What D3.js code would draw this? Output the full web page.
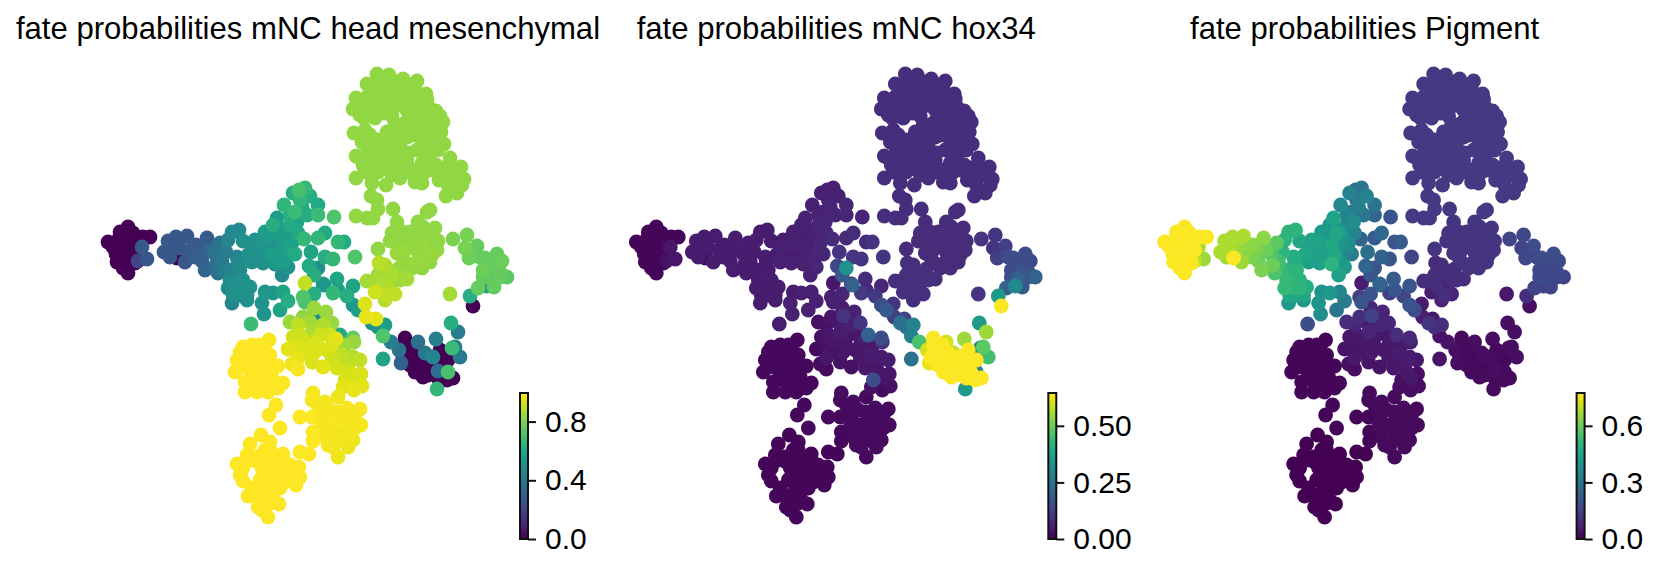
<!DOCTYPE html>
<html>
<head>
<meta charset="utf-8">
<script src="https://cdn.jsdelivr.net/npm/d3@7"></script>
<style>
  html, body { margin: 0; padding: 0; background: #fff; }
  text { font-family: "Liberation Sans", Arial, sans-serif; fill: #000; }
</style>
</head>
<body>
<svg id="chart"></svg>
<script>
// umap position of every cell, same order as the fate arrays below
const umapX = [
  // top lobe
  377,389,403,417,367,377,390,403,415,426,
  356,367,380,393,407,422,427,353,368,382,
  407,420,436,364,392,405,423,433,443,354,
  365,387,402,417,430,441,362,378,393,407,
  422,433,444,356,370,387,400,417,430,450,
  363,378,392,407,422,433,443,461,356,378,
  400,415,422,372,386,439,453,464,462,446,
  457,371,377,378,356,367,373,393,430,427,
  395,385,412,445,398,375,410,395,425,372,
  // branch under the top lobe
  397,418,435,392,402,423,417,430,438,390,
  412,423,432,397,405,417,423,432,402,378,
  // right arm
  453,467,477,465,469,485,497,502,483,493,
  490,500,507,494,487,470,473,451,458,450,
  // lower right group
  405,408,410,403,420,430,423,428,443,448,
  447,414,435,418,399,401,436,425,433,438,
  448,452,437,383,455,460,418,440,412,443,
  // centre green
  305,293,299,310,284,302,295,318,318,334,
  277,290,297,273,325,318,304,280,292,275,
  338,344,311,355,325,333,295,287,275,288,
  318,309,314,337,324,353,333,347,338,305,
  314,303,283,288,273,280,305,314,353,358,
  385,378,383,391,372,264,251,262,323,315,
  // left tip
  108,128,120,143,150,113,128,137,123,133,
  117,128,123,128,135,142,147,138,120,133,
  // left tail
  168,176,187,164,170,180,177,196,207,185,
  195,202,205,220,215,218,216,226,232,237,
  232,239,243,252,252,263,275,265,230,243,
  237,250,233,247,265,232,247,240,265,282,
  // yellow green middle
  379,387,378,398,407,395,367,387,375,395,
  385,365,366,376,478,
  // lower centre
  290,303,298,326,332,323,312,336,353,354,
  340,293,297,288,307,317,327,312,323,337,
  342,353,360,292,298,345,361,362,343,354,
  // yellow left
  243,269,260,250,237,258,270,278,235,248,
  265,272,253,245,257,268,283,278,240,260,
  276,269,280,
  // yellow right
  313,312,325,300,312,323,337,347,360,355,
  361,347,322,313,313,337,328,343,353,338,
  348,333,323,338,
  // bottom
  261,250,270,247,283,300,309,237,257,272,
  243,262,275,290,299,243,260,277,288,300,
  296,252,267,280,248,263,258,270,279,268,
  262,269,
  // second pass, cells hidden in the dense parts
  384,396,410,372,384,397,410,420,362,375,
  387,400,414,428,360,372,384,412,428,440,
  412,395,425,437,370,383,400,412,425,437,
  367,379,393,408,422,438,360,372,385,400,
  415,428,440,450,458,448,365,392,408,436,
  410,425,408,418,437,430,398,405,412,422,
  480,488,497,500,483,492,
  270,262,272,283,283,262,255,248,235,243,
  240,228,225,238,228,222,210,190,172,200,
  300,307,290,285,278,298,290,282,
  128,118,138,126,116,133,
  248,262,272,245,258,270,252,265,240,255,
  318,330,345,330,340,355,325,338,320,350,
  270,265,262,270,283,240,255,272,270,290,258,280,285,250,265,
  300,310,320,330,305,298,315,332,345,350,355,348,332,
  385,392,400,380,388,375,
  410,425,438,415,405,440,453
];
const umapY = [
  74,75,79,81,84,85,87,90,90,94,
  98,97,97,98,100,100,99,109,107,107,
  110,112,111,118,116,123,120,122,122,133,
  130,132,128,130,132,132,142,140,138,137,
  140,143,144,156,152,148,150,150,153,158,
  165,163,162,160,163,170,168,167,178,172,
  178,182,183,183,185,180,175,179,185,196,
  193,196,200,209,216,218,218,209,210,212,
  170,155,172,178,105,118,130,145,172,172,

  222,222,228,233,232,227,237,235,241,241,
  245,247,247,253,250,262,260,255,257,249,

  239,235,246,248,258,258,254,261,270,270,
  278,277,277,287,286,296,306,323,332,294,

  338,350,365,357,353,357,377,375,373,360,
  380,345,368,342,350,363,339,353,357,371,
  372,348,389,359,347,357,362,350,355,362,

  188,193,190,196,205,207,212,205,215,217,
  218,225,222,225,233,238,239,233,243,245,
  242,242,252,257,257,259,254,257,264,267,
  268,266,275,279,285,286,293,296,290,283,
  294,297,292,301,293,310,302,308,305,310,
  325,327,336,342,323,314,324,303,284,316,

  242,227,232,237,237,247,240,242,250,253,
  262,258,268,273,263,247,259,261,255,233,

  241,237,236,252,257,248,258,245,238,262,
  257,261,270,243,254,273,265,252,270,257,
  232,230,241,247,262,263,263,245,280,280,
  288,287,295,295,292,303,300,270,232,230,

  263,273,275,269,279,280,281,287,292,294,
  300,304,317,319,288,

  322,317,325,312,323,325,332,339,338,342,
  335,337,346,349,352,343,350,362,367,368,
  355,357,360,364,369,380,374,386,387,390,

  347,340,345,352,360,355,355,366,372,368,
  372,377,378,392,392,392,383,388,367,380,
  405,415,428,

  393,400,402,417,417,415,412,408,409,415,
  425,423,427,432,441,430,445,438,440,457,
  447,447,420,397,

  435,444,442,455,454,452,454,464,457,457,
  468,468,468,465,467,481,480,480,477,477,
  485,488,490,488,496,495,507,503,504,517,
  510,463,

  80,82,85,92,92,93,95,95,104,102,
  103,105,104,106,115,112,113,116,114,116,
  125,124,128,127,135,143,143,135,135,138,
  146,150,155,153,150,150,158,158,168,165,
  170,162,172,168,172,185,172,175,172,165,
  232,237,240,252,250,262,243,262,268,268,
  257,267,260,272,277,260,
  235,240,255,245,262,255,240,255,285,288,
  295,288,272,263,240,262,250,250,247,250,
  200,215,215,235,255,233,250,275,
  248,240,250,263,254,245,
  360,362,365,382,385,385,345,352,352,370,
  405,410,415,425,420,428,437,440,410,432,
  450,450,478,473,470,475,495,497,480,472,462,462,482,460,503,
  335,322,335,335,342,358,352,358,345,372,378,365,345,
  265,275,280,285,295,280,
  355,368,378,372,345,358,378
];

// fate probability towards each lineage, per cell
const fateHead = [
  .83,.83,.83,.83,.83,.83,.83,.83,.83,.83,
  .83,.83,.83,.83,.83,.83,.83,.83,.83,.83,
  .83,.83,.83,.83,.83,.83,.83,.83,.83,.83,
  .83,.83,.83,.83,.83,.83,.83,.83,.83,.83,
  .83,.83,.83,.83,.83,.83,.83,.83,.83,.83,
  .83,.83,.83,.83,.83,.83,.83,.83,.83,.83,
  .83,.83,.83,.83,.83,.83,.83,.83,.83,.83,
  .83,.83,.83,.83,.83,.83,.83,.83,.83,.83,
  .83,.83,.83,.83,.83,.83,.83,.83,.83,.83,

  .83,.83,.83,.83,.83,.83,.83,.83,.83,.83,
  .83,.84,.83,.84,.84,.84,.84,.84,.84,.83,

  .8,.79,.76,.79,.77,.76,.76,.77,.77,.76,
  .74,.76,.74,.76,.55,.62,0,.62,.42,.86,

  0,0,0,0,0,0,0,0,0,0,
  0,0,0,.36,.38,.3,.42,.4,.45,.35,
  .7,.68,.66,.58,.42,.4,0,0,0,0,

  .66,.62,.7,.62,.65,.6,.68,.6,.68,.72,
  .55,.6,.58,.62,.6,.66,.66,.52,.56,.5,
  .66,.6,.58,.72,.62,.66,.6,.55,.45,.5,
  .5,.6,.62,.58,.52,.58,.66,.62,.55,.9,
  .62,.72,.58,.62,.52,.58,.7,.84,.52,.55,
  .55,.5,.72,.42,.5,.52,.68,.5,.5,.5,

  0,0,0,0,0,0,0,0,0,0,
  0,0,0,0,0,.27,.27,.2,0,0,

  .27,.27,.27,.27,.27,.27,0,.28,.28,.27,
  .29,.3,.33,.38,.38,.38,.36,.42,.44,.44,
  .47,.47,.5,.5,.5,.5,.52,.52,.48,.5,
  .5,.5,.5,.5,.54,.45,.5,.48,.55,.55,

  .89,.86,.85,.84,.86,.85,.86,.88,.92,.9,
  .88,.94,.96,.95,.76,

  .84,.83,.9,.84,.84,.88,.87,.95,.75,.84,
  .6,.92,.94,.95,.94,.94,.93,.94,.95,.93,
  .9,.88,.9,.97,.98,.93,.94,.95,.95,.96,

  1,.98,1,1,1,1,1,.99,1,1,
  1,1,1,1,1,1,.99,1,1,1,
  1,1,1,

  .98,.98,.98,1,.99,.98,.98,.98,.98,.98,
  .98,.98,.98,.99,.99,.97,.98,.97,.97,.97,
  .97,.97,.98,.97,

  1,1,1,1,1,1,1,1,1,1,
  1,1,1,1,1,1,1,1,1,1,
  1,1,1,1,1,1,1,1,1,1,
  1,1,

  .83,.83,.83,.83,.83,.83,.83,.83,.83,.83,
  .83,.83,.83,.83,.83,.83,.83,.83,.83,.83,
  .83,.83,.83,.83,.83,.83,.83,.83,.83,.83,
  .83,.83,.83,.83,.83,.83,.83,.83,.83,.83,
  .83,.83,.83,.83,.83,.83,.83,.83,.83,.83,
  .83,.83,.83,.83,.83,.83,.83,.83,.83,.83,
  .76,.76,.76,.76,.76,.76,
  .55,.52,.55,.55,.55,.5,.5,.5,.5,.5,
  .5,.48,.42,.46,.45,.4,.33,.28,.27,.28,
  .66,.62,.62,.55,.5,.6,.56,.48,
  0,0,0,0,0,0,
  1,1,1,1,1,1,1,1,1,1,
  .98,.98,.98,.98,.98,.98,.98,.98,.98,.98,
  1,1,1,1,1,1,1,1,1,1,1,1,1,1,1,
  .92,.86,.92,.93,.93,.96,.94,.92,.85,.93,.94,.9,.94,
  .88,.87,.85,.87,.9,.86,
  0,0,0,0,0,0,0
];
const fateHox = [
  .085,.085,.085,.085,.085,.085,.085,.085,.085,.085,
  .085,.085,.085,.085,.085,.085,.085,.085,.085,.085,
  .085,.085,.085,.085,.085,.085,.085,.085,.085,.085,
  .085,.085,.085,.085,.085,.085,.085,.085,.085,.085,
  .085,.085,.085,.085,.085,.085,.085,.085,.085,.085,
  .085,.085,.085,.085,.085,.085,.085,.085,.085,.085,
  .085,.085,.085,.085,.085,.085,.085,.085,.085,.085,
  .085,.085,.085,.085,.085,.085,.085,.085,.085,.085,
  .085,.085,.085,.085,.085,.085,.085,.085,.085,.085,

  .08,.08,.08,.08,.08,.08,.08,.08,.08,.08,
  .08,.08,.08,.08,.08,.08,.08,.08,.08,.08,

  .1,.1,.12,.1,.12,.15,.15,.14,.15,.16,
  .2,.17,.2,.18,.3,.35,.64,.35,.55,.1,

  .64,.64,.64,.64,.64,.64,.64,.64,.64,.64,
  .64,.64,.64,.6,.6,.62,.55,.58,.52,.6,
  .3,.3,.35,.24,.48,.45,.64,.64,.64,.64,

  .06,.06,.06,.06,.06,.07,.06,.07,.07,.07,
  .06,.07,.07,.06,.08,.08,.08,.06,.07,.06,
  .08,.1,.1,.1,.1,.1,.07,.07,.06,.07,
  .33,.14,.18,.08,.2,.07,.11,.11,.08,.04,
  .07,.06,.06,.06,.06,.06,.06,.05,.15,.18,
  .28,.24,.28,.46,.24,.06,.05,.06,.07,.1,

  .01,.01,.01,.01,.01,.01,.01,.01,.01,.01,
  .01,.01,.01,.01,.01,.04,.04,.03,.01,.01,

  .05,.05,.05,.05,.05,.05,.02,.05,.05,.05,
  .05,.05,.05,.05,.05,.05,.05,.05,.05,.05,
  .05,.05,.05,.06,.06,.06,.06,.06,.05,.05,
  .05,.05,.05,.05,.05,.05,.05,.05,.06,.06,

  .09,.09,.09,.09,.09,.09,.09,.09,.09,.09,
  .09,.1,.12,.13,.2,

  .03,.04,.03,.06,.1,.06,.05,.05,.15,.1,
  .2,.03,.03,.02,.03,.04,.04,.03,.03,.04,
  .05,.05,.05,.02,.02,.15,.04,.03,.03,.02,

  .015,.015,.015,.015,.015,.015,.015,.015,.015,.015,
  .015,.015,.015,.015,.015,.015,.015,.015,.015,.015,
  .015,.015,.015,

  .02,.02,.02,.015,.015,.02,.02,.02,.02,.02,
  .02,.02,.02,.015,.015,.02,.02,.02,.02,.02,
  .02,.02,.02,.02,

  .008,.008,.008,.008,.008,.008,.008,.008,.008,.008,
  .008,.008,.008,.008,.008,.008,.008,.008,.008,.008,
  .008,.008,.008,.008,.008,.008,.008,.008,.008,.008,
  .008,.008,

  .085,.085,.085,.085,.085,.085,.085,.085,.085,.085,
  .085,.085,.085,.085,.085,.085,.085,.085,.085,.085,
  .085,.085,.085,.085,.085,.085,.085,.085,.085,.085,
  .085,.085,.085,.085,.085,.085,.085,.085,.085,.085,
  .085,.085,.085,.085,.085,.085,.085,.085,.085,.085,
  .08,.08,.08,.08,.08,.08,.08,.08,.08,.08,
  .15,.15,.15,.15,.15,.15,
  .05,.05,.05,.05,.05,.05,.05,.05,.05,.05,
  .05,.05,.05,.05,.05,.05,.05,.05,.05,.05,
  .06,.07,.06,.06,.06,.07,.07,.06,
  .01,.01,.01,.01,.01,.01,
  .015,.015,.015,.015,.015,.015,.015,.015,.015,.015,
  .02,.02,.02,.02,.02,.02,.02,.02,.02,.02,
  .008,.008,.008,.008,.008,.008,.008,.008,.008,.008,.008,.008,.008,.008,.008,
  .04,.04,.04,.04,.04,.04,.04,.04,.04,.04,.04,.04,.04,
  .09,.09,.09,.09,.09,.09,
  .64,.64,.64,.64,.64,.64,.64
];
const fatePigment = [
  .13,.13,.13,.13,.13,.13,.13,.13,.13,.13,
  .13,.13,.13,.13,.13,.13,.13,.13,.13,.13,
  .13,.13,.13,.13,.13,.13,.13,.13,.13,.13,
  .13,.13,.13,.13,.13,.13,.13,.13,.13,.13,
  .13,.13,.13,.13,.13,.13,.13,.13,.13,.13,
  .13,.13,.13,.13,.13,.13,.13,.13,.13,.13,
  .13,.13,.13,.13,.13,.13,.13,.13,.13,.13,
  .13,.13,.13,.13,.13,.13,.13,.13,.13,.13,
  .13,.13,.13,.13,.13,.13,.13,.13,.13,.13,

  .12,.12,.12,.12,.12,.12,.12,.12,.12,.12,
  .12,.12,.12,.12,.12,.12,.12,.12,.12,.12,

  .16,.17,.18,.16,.17,.18,.18,.17,.16,.17,
  .17,.16,.16,.16,.15,.1,.03,.03,.03,.05,

  .02,.02,.02,.02,.02,.02,.02,.02,.02,.02,
  .02,.02,.02,.03,.03,.03,.03,.03,.03,.03,
  .02,.03,.02,.04,.03,.03,.02,.02,.02,.02,

  .3,.34,.27,.34,.36,.33,.3,.3,.25,.2,
  .45,.36,.38,.42,.26,.22,.24,.46,.38,.46,
  .2,.22,.28,.16,.24,.2,.32,.36,.5,.42,
  .2,.25,.2,.22,.2,.2,.15,.16,.2,.06,
  .2,.14,.36,.32,.42,.3,.2,.08,.2,.18,
  .1,.1,.04,.04,.12,.38,.18,.4,.25,.15,

  .77,.77,.77,.77,.77,.77,.77,.77,.77,.77,
  .77,.77,.77,.77,.77,.68,.66,.7,.77,.77,

  .68,.68,.68,.68,.66,.66,.77,.64,.64,.66,
  .62,.6,.62,.58,.56,.56,.6,.5,.5,.48,
  .5,.5,.46,.44,.44,.44,.42,.42,.52,.5,
  .5,.48,.46,.46,.4,.42,.42,.5,.42,.4,

  .1,.1,.1,.1,.1,.1,.1,.08,.07,.08,
  .08,.06,.06,.05,.16,

  .1,.1,.08,.08,.08,.08,.08,.05,.09,.06,
  .1,.05,.04,.04,.04,.05,.05,.04,.04,.05,
  .06,.06,.05,.03,.03,.03,.03,.03,.03,.03,

  .01,.01,.01,.01,.01,.01,.01,.01,.01,.01,
  .01,.01,.01,.01,.01,.01,.01,.01,.01,.01,
  .01,.01,.01,

  .02,.02,.02,.01,.01,.02,.02,.02,.02,.02,
  .02,.02,.02,.01,.01,.02,.02,.02,.02,.02,
  .02,.02,.02,.02,

  0,0,0,0,0,0,0,0,0,0,
  0,0,0,0,0,0,0,0,0,0,
  0,0,0,0,0,0,0,0,0,0,
  0,0,

  .13,.13,.13,.13,.13,.13,.13,.13,.13,.13,
  .13,.13,.13,.13,.13,.13,.13,.13,.13,.13,
  .13,.13,.13,.13,.13,.13,.13,.13,.13,.13,
  .13,.13,.13,.13,.13,.13,.13,.13,.13,.13,
  .13,.13,.13,.13,.13,.13,.13,.13,.13,.13,
  .12,.12,.12,.12,.12,.12,.12,.12,.12,.12,
  .17,.17,.17,.17,.17,.17,
  .42,.44,.42,.4,.4,.44,.45,.46,.5,.5,
  .46,.52,.52,.48,.5,.54,.6,.64,.68,.62,
  .3,.3,.34,.42,.46,.34,.36,.44,
  .77,.77,.77,.77,.77,.77,
  .01,.01,.01,.01,.01,.01,.01,.01,.01,.01,
  .02,.02,.02,.02,.02,.02,.02,.02,.02,.02,
  0,0,0,0,0,0,0,0,0,0,0,0,0,0,0,
  .05,.05,.05,.05,.05,.05,.05,.05,.05,.05,.05,.05,.05,
  .1,.1,.1,.1,.1,.1,
  .02,.02,.02,.02,.02,.02,.02
];

const panelTitles = [
  "fate probabilities mNC head mesenchymal",
  "fate probabilities mNC hox34",
  "fate probabilities Pigment"
];
const panelFates = [fateHead, fateHox, fatePigment];
const colorMax = [0.995, 0.645, 0.774];
const tickValues = [[0, 0.4, 0.8], [0, 0.25, 0.5], [0, 0.3, 0.6]];
const tickFormats = [".1f", ".2f", ".1f"];

const width = 1660;
const height = 572;
const panelStep = 528.3;

const svg = d3.select("#chart")
  .attr("width", width)
  .attr("height", height)
  .style("display", "block");

const x = d3.scaleLinear().domain([100, 500]).range([100, 500]);
const y = d3.scaleLinear().domain([70, 520]).range([70, 520]);

// one gradient is enough, colorbars all use viridis
const grad = svg.append("defs").append("linearGradient")
  .attr("id", "viridis")
  .attr("x1", 0).attr("y1", 1).attr("x2", 0).attr("y2", 0);
d3.range(0, 1.001, 0.05).forEach(t => {
  grad.append("stop")
    .attr("offset", t)
    .attr("stop-color", d3.interpolateViridis(t));
});

panelTitles.forEach((title, p) => {
  const g = svg.append("g").attr("transform", `translate(${p * panelStep},0)`);
  const fate = panelFates[p];
  const color = d3.scaleSequential(d3.interpolateViridis).domain([0, colorMax[p]]);

  g.append("text")
    .attr("x", 308)
    .attr("y", 39)
    .attr("text-anchor", "middle")
    .attr("font-size", "31.1px")
    .text(title);

  // highest values drawn last, as scanpy does
  const cells = umapX.map((d, i) => ({ x: d, y: umapY[i], v: fate[i] }))
    .sort((a, b) => d3.ascending(a.v, b.v));

  g.selectAll("circle")
    .data(cells)
    .join("circle")
    .attr("cx", d => x(d.x))
    .attr("cy", d => y(d.y))
    .attr("r", 7.4)
    .attr("fill", d => color(d.v));

  // colorbar
  const barScale = d3.scaleLinear().domain([0, colorMax[p]]).range([539, 393]);
  const bar = g.append("g");
  bar.append("rect")
    .attr("x", 520)
    .attr("y", 393)
    .attr("width", 8)
    .attr("height", 146)
    .attr("fill", "url(#viridis)")
    .attr("stroke", "#111")
    .attr("stroke-width", 2);

  const axis = d3.axisRight(barScale)
    .tickValues(tickValues[p])
    .tickFormat(d3.format(tickFormats[p]))
    .tickSize(8)
    .tickPadding(9);
  const axisG = bar.append("g")
    .attr("transform", "translate(528,0)")
    .call(axis);
  axisG.select(".domain").remove();
  axisG.selectAll("line").attr("stroke", "#111").attr("stroke-width", 2);
  axisG.selectAll("text")
    .attr("font-size", "30px")
    .attr("font-family", '"Liberation Sans", Arial, sans-serif')
    .attr("fill", "#000");
});
</script>
</body>
</html>
